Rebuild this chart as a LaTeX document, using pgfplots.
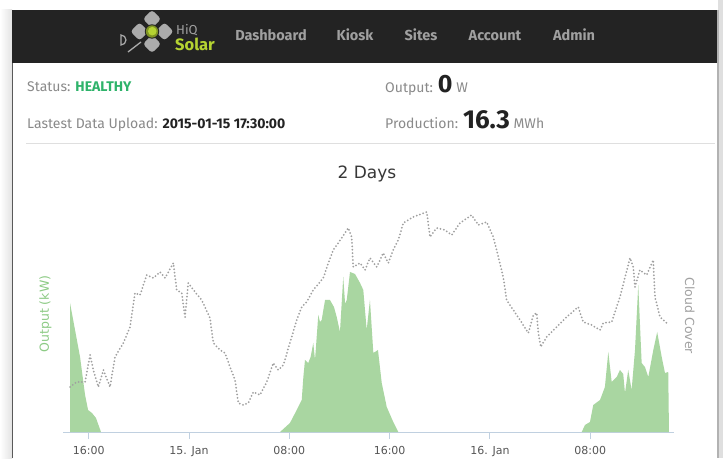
\documentclass[border=0pt]{standalone}
\usepackage{pgfplots}
\pgfplotsset{compat=1.18}
\usepackage{fontspec}
\setmainfont{DejaVu Sans}
\newfontfamily\uifont{Fira Sans}
\newfontfamily\chartfont{DejaVu Sans}
\definecolor{hdr}{HTML}{232323}
\definecolor{navtxt}{HTML}{A0A0A0}
\definecolor{lbl}{HTML}{8A8A8A}
\definecolor{okgreen}{HTML}{2EB36A}
\definecolor{darktxt}{HTML}{222222}
\definecolor{solar}{HTML}{B5D332}
\definecolor{outfill}{HTML}{A9D6A1}
\definecolor{outlbl}{HTML}{8DCB85}
\definecolor{cloud}{HTML}{A0A0A0}
\definecolor{axiscol}{HTML}{C0D0E0}
\definecolor{tickcol}{HTML}{555555}
\definecolor{petal}{HTML}{ABABAB}
\begin{document}
\begin{tikzpicture}[x=1pt,y=1pt]
% page background and frame
\fill[white] (0,0) rectangle (723,458);
\shade[left color=white, right color=gray!22] (0,0) rectangle (12,448);
\fill[gray!25] (718,0) rectangle (723,458);
\fill[gray!60] (716.5,0) rectangle (718.5,448);
\draw[gray!70!black, line width=1pt] (12.5,0) -- (12.5,448);
% header bar
\fill[hdr] (12,395) rectangle (717,448);
% logo
\begin{scope}[shift={(152,426.5)}]
  \foreach \dx/\dy in {0/12.5, 0/-12.5, -12.5/0, 12.5/0}{
    \fill[petal, rounded corners=3pt, rotate around={45:(\dx,\dy)}] (\dx-6.4,\dy-6.4) rectangle (\dx+6.4,\dy+6.4);
  }
  \fill[hdr] (0,0) circle (7.2);
  \fill[solar!70!black] (0,0) circle (6.2);
  \fill[solar] (0.3,0.3) circle (4.3);
\end{scope}
\draw[petal, line width=1.2pt] (121,423) -- (121,413) arc[start angle=-90, end angle=90, radius=5] -- cycle;
\draw[petal, line width=1.3pt] (128,406) -- (141,416);
\node[anchor=base west, inner sep=0, text=navtxt, font=\uifont\fontsize{13}{15}\selectfont] at (176,423) {HiQ};
\node[anchor=base west, inner sep=0, text=solar, font=\uifont\bfseries\fontsize{16.5}{18}\selectfont] at (175,407) {Solar};
% navigation
\foreach \xx/\tt in {271/Dashboard, 355/Kiosk, 421/Sites, 495/Account, 574/Admin}{
  \node[anchor=base, inner sep=0, text=navtxt, font=\uifont\bfseries\fontsize{14.5}{16}\selectfont] at (\xx,417) {\tt};
}
% status area
\node[anchor=base west, inner sep=0, font=\uifont\fontsize{14}{16}\selectfont] at (27,366) {\textcolor{lbl}{Status:} \textcolor{okgreen}{\bfseries HEALTHY}};
\node[anchor=base west, inner sep=0, font=\uifont\fontsize{14}{16}\selectfont] at (27,329) {\textcolor{lbl}{Lastest Data Upload:} \textcolor{darktxt}{\bfseries 2015-01-15 17:30:00}};
\node[anchor=base west, inner sep=0, font=\uifont\fontsize{14}{16}\selectfont] at (385,365) {\textcolor{lbl}{Output:} \textcolor{darktxt}{\bfseries\fontsize{25}{27}\selectfont 0} \textcolor{lbl}{W}};
\node[anchor=base west, inner sep=0, font=\uifont\fontsize{14}{16}\selectfont] at (385,329) {\textcolor{lbl}{Production:} \textcolor{darktxt}{\bfseries\fontsize{26}{28}\selectfont 16.3} \textcolor{lbl}{MWh}};
\draw[gray!25, line width=0.8pt] (26,315) -- (715,315);
% chart title
\node[anchor=base, inner sep=0, text=darktxt!90, font=\chartfont\fontsize{17}{20}\selectfont] at (367,279) {2 Days};
% output axis
\begin{axis}[
  at={(63pt,26pt)}, anchor=south west,
  scale only axis, width=611pt, height=235pt,
  xmin=-10.05, xmax=38.68, ymin=0, ymax=235,
  axis x line*=bottom, axis y line*=left,
  x axis line style={-, draw=axiscol, line width=1pt},
  y axis line style={draw=none},
  xtick={-8,0,8,16,24,32},
  xticklabels={16:00,15. Jan,08:00,16:00,16. Jan,08:00},
  xtick style={draw=axiscol, line width=1pt},
  tick align=outside, major tick length=7pt,
  ytick=\empty,
  xticklabel style={font=\chartfont\fontsize{11}{13}\selectfont, text=tickcol, yshift=-3.5pt},
  ylabel={Output (kW)},
  ylabel style={at={(axis description cs:-0.0286,0.502)}, anchor=center, text=outlbl, font=\chartfont\fontsize{12.5}{14}\selectfont},
]
\addplot[fill=outfill, draw=none] coordinates {
(-9.49,0) (-9.49,129) (-9.09,102) (-8.69,75) (-8.29,37) (-8.05,22) (-7.74,19) (-7.42,14) (-7.02,0)
} \closedcycle;
\addplot[fill=outfill, draw=none] coordinates {
(7.26,0) (8.05,9) (8.59,22) (8.99,32) (9.12,55) (9.25,72) (9.51,69) (9.70,75) (9.91,89) (10.05,72)
(10.31,117) (10.45,110) (10.58,112) (10.85,132) (11.24,132) (11.56,125) (11.78,115) (12.04,100)
(12.30,155) (12.45,128) (12.58,132) (12.84,160) (13.24,158) (13.64,149) (13.90,142) (14.17,102)
(14.43,132) (14.70,79) (15.07,82) (15.37,49) (15.77,25) (16.29,10) (16.69,0)
} \closedcycle;
\addplot[fill=outfill, draw=none] coordinates {
(31.32,0) (31.58,7) (31.98,10) (32.24,27) (32.78,32) (33.17,45) (33.44,80) (33.71,50) (34.11,55)
(34.37,62) (34.63,58) (34.77,39) (35.03,62) (35.30,42) (35.57,82) (35.83,147) (36.10,69) (36.36,65)
(36.63,55) (37.03,82) (37.34,100) (37.70,75) (37.96,59) (38.22,60) (38.28,0)
} \closedcycle;
\end{axis}
% cloud cover axis
\begin{axis}[
  at={(63pt,26pt)}, anchor=south west,
  scale only axis, width=611pt, height=235pt,
  xmin=-10.05, xmax=38.68, ymin=0, ymax=235,
  axis x line=none, axis y line*=right,
  y axis line style={draw=none},
  xtick=\empty, ytick=\empty,
  ylabel={Cloud Cover},
  ylabel style={at={(axis description cs:1.026,0.494)}, anchor=center, rotate=180, text=lbl!80, font=\chartfont\fontsize{12.5}{14}\selectfont},
]
\addplot[draw=cloud, line width=2pt, line cap=round, dash pattern=on 0pt off 3.4pt] coordinates {
(-9.49,45) (-8.96,50) (-8.29,50) (-7.89,77) (-7.63,62) (-7.23,45) (-6.83,62) (-6.30,45) (-5.90,75)
(-5.24,89) (-4.70,105) (-4.31,139) (-3.91,137) (-3.37,157) (-2.85,154) (-2.31,160) (-1.91,154)
(-1.25,169) (-0.98,142) (-0.58,139) (-0.32,115) (-0.06,149) (0.48,140) (1.01,132) (1.67,114)
(1.94,89) (2.47,82) (2.87,79) (3.27,65) (3.67,52) (3.93,29) (4.33,27) (4.73,29) (5.13,40)
(5.66,37) (6.20,50) (6.72,69) (7.12,62) (7.52,67) (8.05,89) (8.59,112) (8.99,125) (9.39,130)
(9.91,142) (10.71,154) (11.11,169) (11.51,182) (12.18,194) (12.70,204) (12.97,195) (13.10,165)
(13.64,169) (14.04,162) (14.43,174) (14.97,165) (15.49,179) (15.89,169) (16.29,182) (16.69,192)
(17.09,209) (17.89,215) (18.96,220) (19.22,195) (19.75,204) (20.41,202) (20.95,197) (21.61,209)
(22.54,217) (23.07,207) (23.74,210) (24.27,195) (24.67,175) (25.06,155) (25.33,132) (25.86,122)
(26.40,112) (27.06,99) (27.46,117) (27.73,119) (27.86,99) (28.05,85) (28.52,95) (29.32,105)
(30.12,115) (31.04,125) (31.44,110) (32.11,107) (32.78,102) (33.04,109) (33.71,110) (34.37,135)
(35.17,174) (35.43,165) (35.57,145) (35.96,162) (36.50,157) (37.03,172) (37.16,135) (37.56,115)
(38.09,109)
};
\end{axis}
\pgfresetboundingbox
\useasboundingbox (0,0) rectangle (723,458);
\end{tikzpicture}
\end{document}
